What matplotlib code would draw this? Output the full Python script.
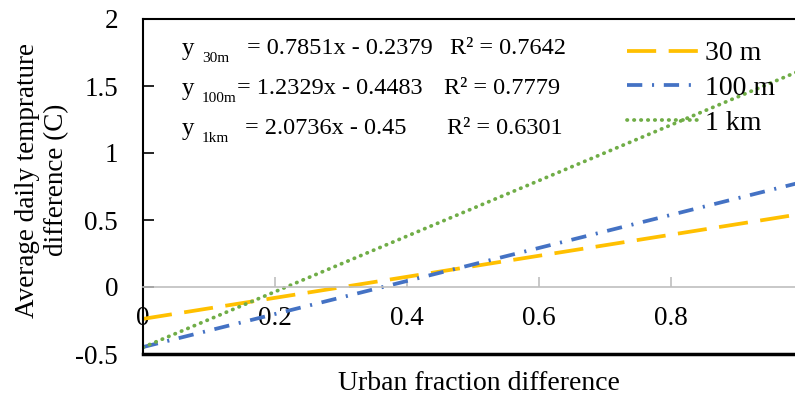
import numpy as np
import matplotlib.pyplot as plt

plt.rcParams['font.family'] = ['Liberation Serif', 'DejaVu Serif']
plt.rcParams['lines.scale_dashes'] = False

# trendlines (slope, intercept, R²)
labels = ['30 m', '100 m', '1 km']
subs = ['30m', '100m', '1km']
slopes = [0.7851, 1.2329, 2.0736]
intercepts = [-0.2379, -0.4483, -0.45]
r2 = [0.7642, 0.7779, 0.6301]
eq_text = ['= 0.7851x - 0.2379', '= 1.2329x - 0.4483', '= 2.0736x - 0.45']
x_range = [0.0, 0.99]

colors = ['#FFC000', '#4472C4', '#70AD47']
dashes = [(21, 9), (11, 7, 1.5, 7), (0.3, 4.7)]

W, H = 795, 398
fig = plt.figure(figsize=(W / 100, H / 100), dpi=100)
ax = fig.add_axes([143 / W, 1 - 354 / H, 1 - 143 / W, (354 - 19) / H])

xs = np.array(x_range)
for i in range(3):
    ys = slopes[i] * xs + intercepts[i]
    ln, = ax.plot(xs, ys, color=colors[i], lw=2.7, label=labels[i])
    ln.set_dashes(dashes[i])
    ln.set_dash_capstyle('round' if i == 2 else 'butt')

ax.set_xlim(0, 0.988)
ax.set_ylim(-0.5, 2)
ax.set_yticks([-0.5, 0, 0.5, 1, 1.5, 2])
ax.set_yticklabels(['-0.5', '0', '0.5', '1', '1.5', '2'])
ax.set_xticks([0, 0.2, 0.4, 0.6, 0.8])
ax.set_xticklabels(['0', '0.2', '0.4', '0.6', '0.8'])

# x axis drawn at y = 0 (gray), plot box bottom at -0.5
ax.spines['bottom'].set_position(('data', 0))
ax.spines['bottom'].set_color('#BFBFBF')
ax.spines['bottom'].set_linewidth(1.2)
ax.spines['right'].set_visible(False)
ax.spines['left'].set_linewidth(1.5)
ax.spines['top'].set_linewidth(1.5)
ax.axhline(-0.5, color='black', lw=2.5, clip_on=False)
ax.tick_params(axis='x', direction='in', length=7, color='#BFBFBF', width=1.2,
               labelsize=19.5, pad=14)
ax.tick_params(axis='y', direction='in', length=8, width=1.2, labelsize=19.5, pad=18)

fig.text(479 / W, 1 - 383 / H, 'Urban fraction difference', fontsize=20,
         ha='center', va='center')
fig.text(42 / W, 1 - 180 / H, 'Average daily temprature\ndifference (C)',
         fontsize=19.5, ha='center', va='center', rotation=90, multialignment='center',
         linespacing=1.2)

# trendline equations
rows_y = [49, 89, 129]
eq_x = [247, 237, 245]
r2_x = [450, 444, 447]
for i in range(3):
    yy = 1 - rows_y[i] / H
    fig.text(182 / W, yy, 'y', fontsize=18, va='center')
    fig.text(202 / W, yy - 9 / H, subs[i], fontsize=11, va='center')
    fig.text(eq_x[i] / W, yy, eq_text[i], fontsize=17.5, va='center')
    fig.text(r2_x[i] / W, yy, 'R² = %.4f' % r2[i], fontsize=17.5, va='center')

ax.legend(loc='upper left', bbox_to_anchor=(627 / W, 1 - 41 / H),
          bbox_transform=fig.transFigure, frameon=False, fontsize=20,
          handlelength=2.6, handletextpad=0.2, labelspacing=0.33,
          borderpad=0, borderaxespad=0)

fig.savefig('out.png', dpi=100)
